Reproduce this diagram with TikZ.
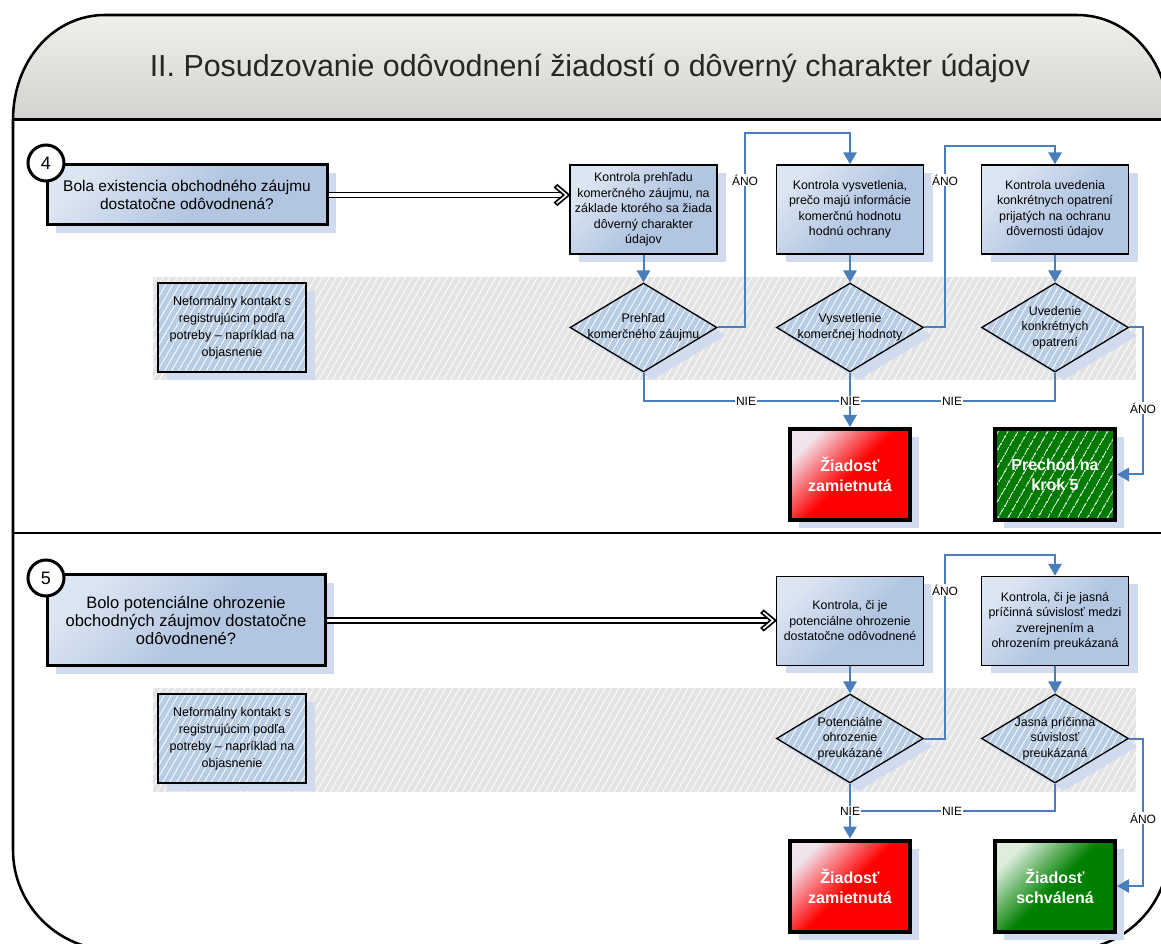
\documentclass[tikz,border=0pt]{standalone}
\usepackage{fontspec}
\setmainfont{Liberation Sans}
\usetikzlibrary{shapes.geometric,arrows.meta,shadows,patterns.meta,calc}

\definecolor{lineblue}{HTML}{4A7EBB}
\definecolor{shadowc}{HTML}{D0DCEE}
\definecolor{bandgray}{HTML}{E4E4E4}
\definecolor{boxblue}{HTML}{B8CCE4}
\definecolor{bxlight}{HTML}{DCE5F2}
\definecolor{bxdark}{HTML}{B2C6E1}
\definecolor{redlight}{HTML}{F2E4EC}
\definecolor{greenlight}{HTML}{DDEEDD}
\definecolor{gdark}{HTML}{008000}
\definecolor{hdtop}{HTML}{EFEFEB}
\definecolor{hdbot}{HTML}{D2D2D0}

\pgfdeclareverticalshading{boxsh}{100bp}{color(0bp)=(bxdark); color(45bp)=(bxdark); color(75bp)=(bxlight); color(100bp)=(bxlight)}
\pgfdeclareverticalshading{redsh}{100bp}{color(0bp)=(red); color(50bp)=(red); color(75bp)=(redlight); color(100bp)=(redlight)}
\pgfdeclareverticalshading{greensh}{100bp}{color(0bp)=(gdark); color(50bp)=(gdark); color(75bp)=(greenlight); color(100bp)=(greenlight)}

\newcommand{\myfs}[2]{\fontsize{#1}{#2}\selectfont}

\tikzset{
  sh/.style={drop shadow={shadow xshift=6.75pt, shadow yshift=-6pt, fill=shadowc, opacity=1}},
  hatchfill/.style={preaction={fill=#1}, preaction={pattern color=white, pattern={Lines[angle=60,distance=4.5pt,line width=0.6pt]}}},
  qbox/.style={sh, draw=black, line width=2.25pt, shading=boxsh, shading angle=45, align=center, inner sep=0pt, minimum width=210pt},
  numc/.style={circle, draw=black, line width=2.25pt, fill=white, minimum size=27pt, inner sep=0pt, font=\myfs{13.5}{15}},
  pbox/.style={sh, draw=black, line width=1.1pt, shading=boxsh, shading angle=45, align=center, inner sep=0pt, minimum width=110.25pt, minimum height=66.75pt, font=\myfs{9.3}{11.6}},
  nbox/.style={sh, hatchfill=boxblue, draw=black, line width=1.1pt, align=center, inner sep=0pt, minimum width=111pt, minimum height=66.75pt, font=\myfs{9.4}{12.75}},
  dia/.style={sh, diamond, hatchfill=boxblue, draw=black, line width=1pt, inner sep=0pt, minimum width=110.25pt, minimum height=66.75pt},
  dtext/.style={align=center, inner sep=0pt, font=\myfs{9.3}{11.6}},
  endbox/.style={sh, draw=black, line width=3pt, align=center, inner sep=0pt, minimum width=90pt, minimum height=68.25pt, text=white, font=\bfseries\myfs{12}{15}},
  redb/.style={endbox, shading=redsh, shading angle=45},
  greenb/.style={endbox, shading=greensh, shading angle=45},
  greenh/.style={sh, preaction={fill=gdark!95!black}, preaction={pattern color=white, pattern={Lines[angle=60,distance=6.5pt,line width=0.7pt]}}, draw=black, line width=3pt, align=center, inner sep=0pt, minimum width=90pt, minimum height=68.25pt, text=white, font=\bfseries\myfs{12}{15}},
  conn/.style={draw=lineblue, line width=1.5pt, -{Triangle[length=9pt,width=10pt]}},
  plainc/.style={draw=lineblue, line width=1.5pt},
  lbl/.style={fill=white, inner sep=0.8pt, font=\myfs{9}{10}},
  dbl/.style={draw=black, double=white, double distance=2.8pt, line width=1.2pt},
  chev/.style={draw=black, fill=white, line width=1.2pt, line join=miter},
}

\begin{document}
\begin{tikzpicture}[x=0.75pt,y=-0.75pt]
\useasboundingbox (0,0) rectangle (1161,944);

% header
\shade[top color=hdtop, bottom color=hdbot] (13,120) .. controls (13,60) and (54,15) .. (105,15) -- (1077,15) .. controls (1128,15) and (1169,60) .. (1169,120) -- cycle;
\node[font=\myfs{22.8}{27}, text=black!85] (title) at (590,68) {II. Posudzovanie odôvodnení žiadostí o dôverný charakter údajov};

% outer frame
\draw[line width=1.9pt] (13,850) -- (13,120) .. controls (13,60) and (54,15) .. (105,15) -- (1077,15) .. controls (1128,15) and (1169,60) .. (1169,120) -- (1169,850) .. controls (1169,905) and (1124,950) .. (1069,950) -- (113,950) .. controls (58,950) and (13,905) .. (13,850) -- cycle;
\draw[line width=2.25pt] (13,120) -- (1169,120);
\draw[line width=1.5pt] (13,533) -- (1169,533);

% ===== lane 4 =====
\path[hatchfill=bandgray] (153,277) rectangle (1136,380);

\node[qbox, minimum height=45pt, font=\myfs{11.6}{13}] (q4) at (187,195) {Bola existencia obchodného záujmu\\dostatočne odôvodnená?};
\node[numc] (c4) at (46,163) {4};

\node[pbox] (pA) at (643.5,209.5) {Kontrola prehľadu\\komerčného záujmu, na\\základe ktorého sa žiada\\dôverný charakter\\údajov};
\node[pbox] (pB) at (850,209.5) {Kontrola vysvetlenia,\\prečo majú informácie\\komerčnú hodnotu\\hodnú ochrany};
\node[pbox] (pC) at (1055,209.5) {Kontrola uvedenia\\konkrétnych opatrení\\prijatých na ochranu\\dôvernosti údajov};

\node[nbox] (n1) at (232,327.5) {Neformálny kontakt s\\registrujúcim podľa\\potreby – napríklad na\\objasnenie};

\node[dia] (dA) at (643.5,327.5) {};
\node[dtext] (tA) at (dA) {Prehľad\\komerčného záujmu};
\node[dia] (dB) at (850,327.5) {};
\node[dtext] (tB) at (dB) {Vysvetlenie\\komerčnej hodnoty};
\node[dia] (dC) at (1055,327.5) {};
\node[dtext] (tC) at (dC) {Uvedenie\\konkrétnych\\opatrení};

\node[redb] (r1) at (850,474.5) {Žiadosť\\zamietnutá};
\node[greenh] (g1) at (1055,474.5) {Prechod na\\krok 5};

\coordinate (j1) at (745,133);
\coordinate (j2) at (945,146);
\coordinate (j3) at (1143,400);
\coordinate (j4) at (850,401);
\coordinate (t4) at (q4.east -| pA.west);

\draw[dbl] (q4.east) -- ($(t4)+(-8.6,0)$);
\draw[chev] (t4) -- ++(-12,-10) -- ++(-2.5,2.5) -- ++(5.9,4.9) -- ++(3.1,2.6) -- ++(-3.1,2.6) -- ++(-5.9,4.9) -- ++(2.5,2.5) -- cycle;
\draw[conn] (pA.south) -- (dA.north);
\draw[conn] (pB.south) -- (dB.north);
\draw[conn] (pC.south) -- (dC.north);
\draw[conn] (dA.east) -| (j1) -| (pB.north);
\draw[conn] (dB.east) -| (j2) -| (pC.north);
\draw[conn] (dC.east) -| (j3) |- (g1.east);
\draw[plainc] (dA.south) |- (j4);
\draw[plainc] (dC.south) |- (j4);
\draw[conn] (dB.south) -- (r1.north);
\node[lbl] (l1) at (745,180) {ÁNO};
\node[lbl] (l2) at (945,180) {ÁNO};
\node[lbl] (l3) at (1143,408) {ÁNO};
\node[lbl] (l4) at (746,401) {NIE};
\node[lbl] (l5) at (850,401) {NIE};
\node[lbl] (l6) at (952,401) {NIE};

% ===== lane 5 =====
\path[hatchfill=bandgray] (153,688) rectangle (1136,792);

\node[qbox, minimum width=208.5pt, minimum height=68.25pt, font=\myfs{12.4}{13.7}] (q5) at (186,620.5) {Bolo potenciálne ohrozenie\\obchodných záujmov dostatočne\\odôvodnené?};
\node[numc] (c5) at (46,578) {5};

\node[pbox] (pD) at (850,621) {Kontrola, či je\\potenciálne ohrozenie\\dostatočne odôvodnené};
\node[pbox] (pE) at (1055,621) {Kontrola, či je jasná\\príčinná súvislosť medzi\\zverejnením a\\ohrozením preukázaná};

\node[nbox] (n2) at (232,738.5) {Neformálny kontakt s\\registrujúcim podľa\\potreby – napríklad na\\objasnenie};

\node[dia] (dD) at (850,738.5) {};
\node[dtext] (tD) at (dD) {Potenciálne\\ohrozenie\\preukázané};
\node[dia] (dE) at (1055,738.5) {};
\node[dtext] (tE) at (dE) {Jasná príčinná\\súvislosť\\preukázaná};

\node[redb] (r2) at (850,886) {Žiadosť\\zamietnutá};
\node[greenb] (g2) at (1055,886) {Žiadosť\\schválená};

\coordinate (j5) at (945,555);
\coordinate (j6) at (1143,800);
\coordinate (j7) at (850,811);
\coordinate (t5) at (q5.east -| pD.west);

\draw[dbl] (q5.east) -- ($(t5)+(-8.6,0)$);
\draw[chev] (t5) -- ++(-12,-10) -- ++(-2.5,2.5) -- ++(5.9,4.9) -- ++(3.1,2.6) -- ++(-3.1,2.6) -- ++(-5.9,4.9) -- ++(2.5,2.5) -- cycle;
\draw[conn] (pD.south) -- (dD.north);
\draw[conn] (pE.south) -- (dE.north);
\draw[conn] (dD.east) -| (j5) -| (pE.north);
\draw[conn] (dE.east) -| (j6) |- (g2.east);
\draw[plainc] (dE.south) |- (j7);
\draw[conn] (dD.south) -- (r2.north);
\node[lbl] (l7) at (945,590) {ÁNO};
\node[lbl] (l8) at (850,811) {NIE};
\node[lbl] (l9) at (952,811) {NIE};
\node[lbl] (l10) at (1143,818) {ÁNO};
\end{tikzpicture}
\end{document}
